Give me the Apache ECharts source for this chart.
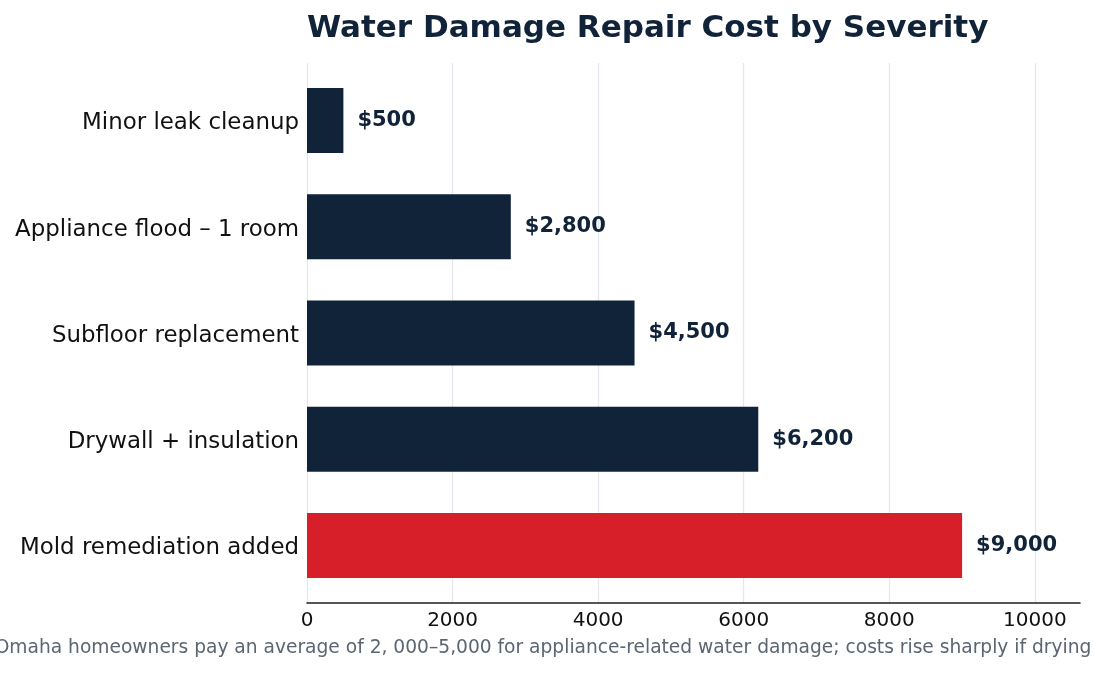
<!DOCTYPE html>
<html>
<head>
<meta charset="utf-8">
<script src="https://cdn.jsdelivr.net/npm/echarts@6/dist/echarts.min.js"></script>
<style>
html,body{margin:0;padding:0;background:#fff;}
#chart{width:1094px;height:674px;}
</style>
</head>
<body>
<div id="chart"></div>
<script>
const titleText = 'Water Damage Repair Cost by Severity';
const footnoteText = 'Omaha homeowners pay an average of 2, 000–5,000 for appliance-related water damage; costs rise sharply if drying';
const categories = ['Minor leak cleanup', 'Appliance flood – 1 room', 'Subfloor replacement', 'Drywall + insulation', 'Mold remediation added'];
const costs = [500, 2800, 4500, 6200, 9000];
const highlight = [false, false, false, false, true];
const xMin = 0;
const xMax = 10620;
const xInterval = 2000;

const NAVY = '#102338';
const RED = '#d71f2a';
const FONT = "'DejaVu Sans'";

const chart = echarts.init(document.getElementById('chart'), null, {renderer: 'canvas'});
chart.setOption({
  backgroundColor: '#ffffff',
  animation: false,
  textStyle: {fontFamily: FONT},
  title: [
    {text: titleText, left: 307, top: 13, padding: 0,
     textStyle: {fontFamily: FONT, fontWeight: 'bold', fontSize: 31, color: NAVY}}
  ],
  graphic: [
    {type: 'text', x: 543, y: 648, silent: true,
     style: {text: footnoteText, align: 'center', verticalAlign: 'middle',
       font: "normal 18.65px 'DejaVu Sans'", fill: '#5b6573'}}
  ],
  grid: [
    {left: 307, right: 14, top: 63, height: 540, containLabel: false},
    {left: 307, right: 14, top: 67.25, height: 531.25, containLabel: false}
  ],
  xAxis: [
    {type: 'value', gridIndex: 0, min: xMin, max: xMax, interval: xInterval,
     axisLine: {show: true, onZero: false, lineStyle: {color: '#1f1f1f', width: 1.6}},
     axisTick: {show: false},
     axisLabel: {show: true, showMaxLabel: false, margin: 8, fontFamily: FONT, fontSize: 20, color: '#111',
       formatter: v => String(v)},
     splitLine: {show: true, showMaxLine: false, lineStyle: {color: '#e3e7ee', width: 1.3}}},
    {type: 'value', gridIndex: 1, min: xMin, max: xMax, interval: xInterval,
     axisLine: {show: false}, axisTick: {show: false}, axisLabel: {show: false}, splitLine: {show: false}}
  ],
  yAxis: [
    {type: 'value', gridIndex: 0, show: false, min: 0, max: 1},
    {type: 'category', gridIndex: 1, data: categories, inverse: true,
     axisLine: {show: false}, axisTick: {show: false},
     axisLabel: {margin: 8, fontFamily: FONT, fontSize: 22.9, color: '#111',
       verticalAlign: 'top', lineHeight: 6},
     splitLine: {show: false}}
  ],
  series: [{
    type: 'bar', xAxisIndex: 1, yAxisIndex: 1,
    barWidth: 65,
    data: costs.map((v, i) => ({value: v, itemStyle: {color: highlight[i] ? RED : NAVY}})),
    label: {show: true, position: 'right', distance: 14,
      fontFamily: FONT, fontWeight: 'bold', fontSize: 21, color: NAVY,
      formatter: p => '$' + p.value.toLocaleString('en-US')}
  }]
});
</script>
</body>
</html>
